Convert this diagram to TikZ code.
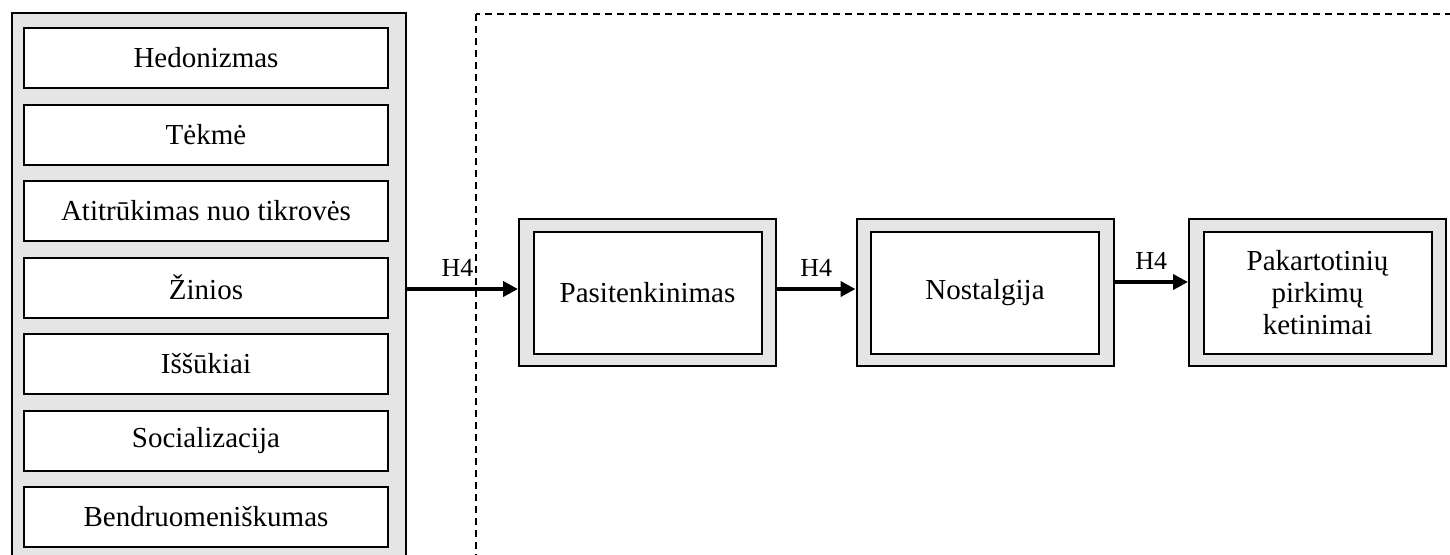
\documentclass[tikz,border=0pt]{standalone}
\usepackage{fontspec}
\setmainfont{Liberation Serif}
\usepackage{tikz}
\usetikzlibrary{arrows.meta}
\tikzset{
factor box/.style={draw, line width=1pt, fill=white, minimum width=182pt, minimum height=30pt, inner sep=0, font=\fontsize{14.5}{16}\selectfont},
outer box/.style={draw, line width=1pt, fill=black!10, minimum width=128.5pt, minimum height=73.5pt, inner sep=0},
inner box/.style={draw, line width=1pt, fill=white, minimum width=114pt, minimum height=61pt, inner sep=0, align=center, font=\fontsize{14.5}{16}\selectfont},
%
panel/.style={line width=1.2pt, fill=black!10},
dashed frame/.style={line width=1pt, dash pattern=on 3.5pt off 2.5pt},
%
hyp arrow/.style={line width=2pt, -{Triangle[length=7.5pt,width=7.5pt]}},
hyp label/.style={above=4pt, inner sep=1.5pt, font=\fontsize{13}{15}\selectfont},
}

\begin{document}
\begin{tikzpicture}[x=0.5pt,y=-0.5pt]
        \useasboundingbox (0,0) rectangle (1450,554);
        \clip (0,0) rectangle (1450,554);
        \draw[dashed frame] (476,14) rectangle (1480,590);
        \draw[panel] (12,13) rectangle (406,590);
        \foreach \i/\txt in {0/Hedonizmas,1/Tėkmė,2/Atitrūkimas nuo tikrovės,3/Žinios,4/Iššūkiai,5/Socializacija,6/Bendruomeniškumas}  {
            \node[factor box] (f\i) at (206,{58+76.5*\i}) {\txt};
        }
        \node[outer box] (sat) at (647.5,292.5) {};
        \node[inner box] (sat text) at (sat) {Pasitenkinimas};
        \node[outer box] (nos) at (985,292.5) {};
        \node[inner box] (nos text) at (nos) {Nostalgija};
        \node[outer box] (rep) at (1317.5,292.5) {};
        \node[inner box] (rep text) at (rep) {Pakartotinių\\pirkimų\\ketinimai};
        \coordinate (panel out) at (406,289);
        \coordinate (h3) at (1150,282);
        \draw[hyp arrow] (panel out) -- (panel out -| sat.west) node[hyp label, pos=.46] {H4};
        \draw[hyp arrow] (sat.east |- panel out) -- (nos.west |- panel out) node[hyp label, midway] {H4};
        \draw[hyp arrow] (nos.east |- h3) -- (rep.west |- h3) node[hyp label, midway] {H4};
    \end{tikzpicture}
\end{document}
